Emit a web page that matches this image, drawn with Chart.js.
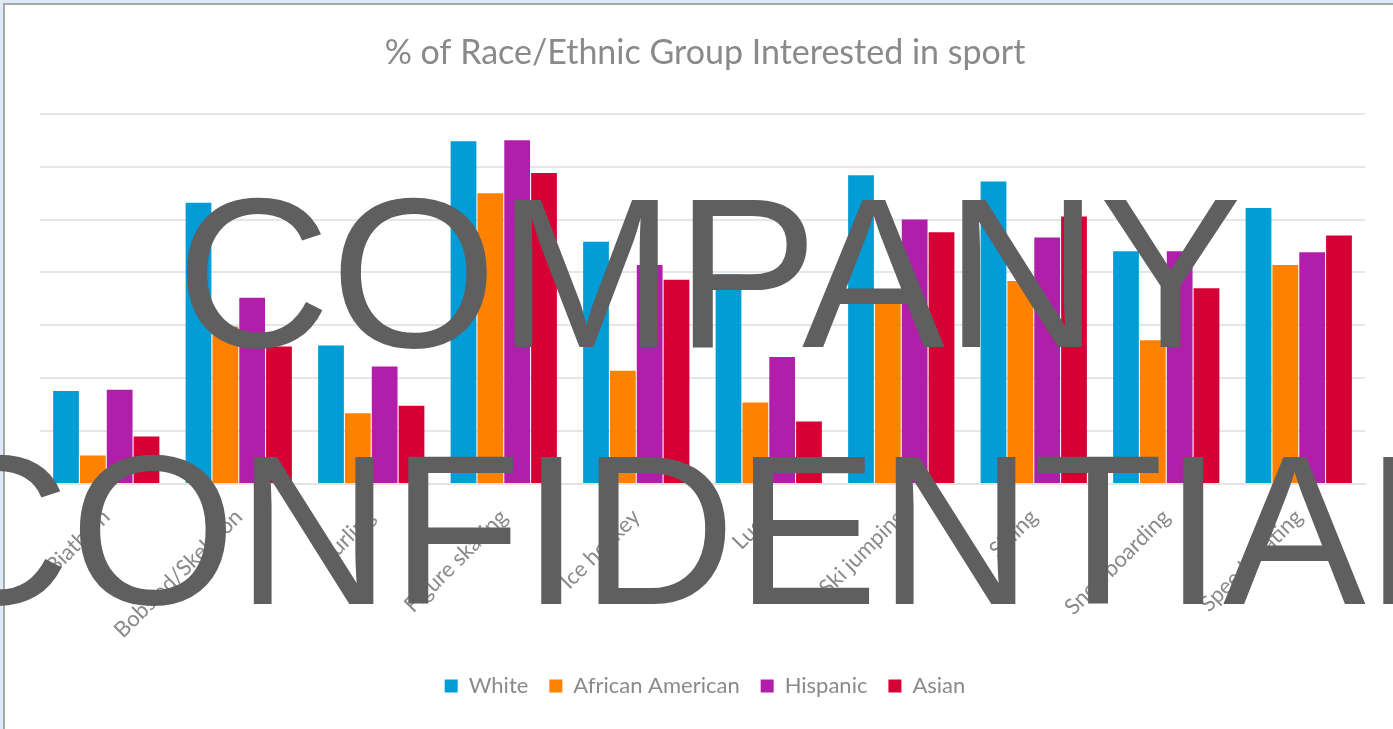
<!DOCTYPE html>
<html>
<head>
<meta charset="utf-8">
<script src="https://cdn.jsdelivr.net/npm/chart.js@4"></script>
<style>
  html, body { margin: 0; padding: 0; width: 1393px; height: 729px; overflow: hidden; background: #dde9f4; }
  #frame { position: absolute; left: 3px; top: 3px; width: 1400px; height: 740px; border: 2px solid #a8a8a8; background: #fff; }
  #grafico { position: absolute; left: 0; top: 0; width: 1393px; height: 729px; }
</style>
</head>
<body>
<div id="frame"></div>
<canvas id="grafico" width="1393" height="729"></canvas>
<script>
/* datos del grafico */
const sports = ["Biathlon", "Bobsled/Skeleton", "Curling", "Figure skating", "Ice hockey",
	"Luge", "Ski jumping", "Skiing", "Snowboarding", "Speed skating"];
const white    = [8.8, 26.6, 13.1, 32.4, 22.9, 19.8, 29.2, 28.6, 22.0, 26.1];
const african  = [2.7, 14.9,  6.7, 27.5, 10.7,  7.7, 18.2, 19.2, 13.6, 20.7];
const hispanic = [8.9, 17.6, 11.1, 32.5, 20.7, 12.0, 25.0, 23.3, 22.0, 21.9];
const asian    = [4.5, 13.0,  7.4, 29.4, 19.3,  5.9, 23.8, 25.3, 18.5, 23.5];
const yTicks   = [0, 5, 10, 15, 20, 25, 30, 35];
const watermark = ["COMPANY", "CONFIDENTIAL"];

const gris = "#8a8a8a";

/* marca de agua encima de todo */
const marcaAgua = {
	id: "marcaAgua",
	afterDraw(chart) {
		const ctx = chart.ctx;
		ctx.save();
		ctx.fillStyle = "#5f5f5f";
		ctx.font = "214px 'Liberation Sans', Arial, sans-serif";
		ctx.textAlign = "center";
		ctx.textBaseline = "alphabetic";
		ctx.fillText(watermark[0], 709, 347);
		ctx.fillText(watermark[1], 700, 604);
		ctx.restore();
	}
};

const G4 = document.getElementById("grafico").getContext("2d");
let grafico = new Chart(G4, {
	type: "bar",
	data: {
		labels: sports,
		datasets: [
			{ label: "White", data: white, backgroundColor: "#029cd7" },
			{ label: "African American", data: african, backgroundColor: "#fe8200" },
			{ label: "Hispanic", data: hispanic, backgroundColor: "#b11ea9" },
			{ label: "Asian", data: asian, backgroundColor: "#d70035" }
		],
	},
	options: {
		responsive: false,
		animation: false,
		devicePixelRatio: 1,
		layout: { padding: { left: 17, right: 0, top: 0, bottom: 22 } },
		datasets: { bar: { categoryPercentage: 0.81, barPercentage: 0.96 } },
		scales: {
			y: {
				min: 0,
				max: yTicks[yTicks.length - 1],
				afterBuildTicks: (s) => { s.ticks = yTicks.map(v => ({ value: v })); },
				afterFit: (s) => { s.width = 23; },
				ticks: { display: false },
				grid: { color: "#e6e6e6", lineWidth: 2, drawTicks: false },
				border: { display: false }
			},
			// eje vacio a la derecha, solo para dejar margen
			yR: {
				position: "right",
				afterFit: (s) => { s.width = 28; },
				ticks: { display: false },
				grid: { display: false, drawTicks: false },
				border: { display: false }
			},
			x: {
				afterFit: (s) => {
					const leg = s.chart.legend ? s.chart.legend.height : 53;
					s.height = s.chart.height - 22 - leg - 484;
				},
				grid: { display: false },
				border: { display: true, color: "#e3e3e3", width: 2 },
				ticks: {
					color: gris,
					font: { family: "Lato", size: 22 },
					minRotation: 45,
					maxRotation: 45,
					padding: 12
				}
			}
		},
		plugins: {
			title: {
				display: true,
				text: "% of Race/Ethnic Group Interested in sport",
				color: gris,
				font: { family: "Lato", size: 34, weight: "normal" },
				padding: { top: 33, bottom: 40 }
			},
			legend: {
				position: "bottom",
				labels: {
					color: gris,
					font: { family: "Lato", size: 22 },
					boxWidth: 13,
					boxHeight: 13,
					padding: 21
				}
			},
			tooltip: { enabled: false }
		}
	},
	plugins: [marcaAgua]
});
</script>
</body>
</html>
